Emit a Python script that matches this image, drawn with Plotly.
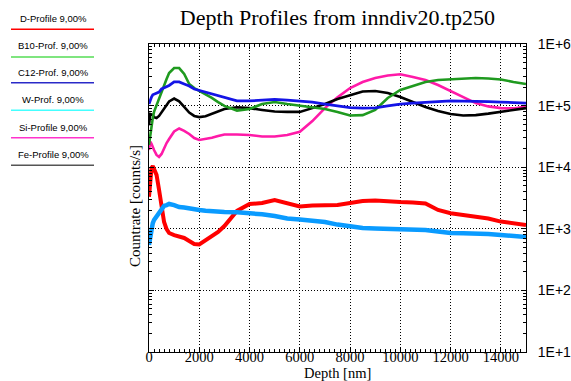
import plotly.graph_objects as go

# ---------------- data ----------------
depth_nm = [0, 50, 100, 150, 200, 300, 400, 500, 600, 700, 800, 1000, 1200, 1400, 1600,
            1800, 2000, 2250, 2500, 2750, 3000, 3500, 4000, 4500, 5000, 5500, 6000, 6500,
            7000, 7500, 8000, 8500, 9000, 9500, 10000, 10500, 11000, 11500, 12000, 12500,
            13000, 13500, 14000, 14500, 15000]

d_profile = [3.3e3, 6.2e3, 9.7e3, 1.04e4, 9.4e3, 7.5e3, 4.3e3, 2.26e3, 1.29e3, 990, 855, 790, 750,
             710, 634, 567, 556, 658, 764, 887, 1.11e3, 1.95e3, 2.53e3, 2.62e3, 2.94e3, 2.65e3,
             2.30e3, 2.39e3, 2.43e3, 2.43e3, 2.62e3, 2.83e3, 2.88e3, 2.75e3, 2.72e3, 2.68e3,
             2.58e3, 2.02e3, 1.79e3, 1.68e3, 1.56e3, 1.47e3, 1.31e3, 1.24e3, 1.15e3]

b10_profile = [2.3e4, 3.3e4, 5.0e4, 6.3e4, 7.9e4, 1.02e5, 1.23e5, 1.66e5, 2.16e5, 2.70e5, 3.38e5,
               4.07e5, 4.07e5, 3.26e5, 2.24e5, 1.93e5, 1.73e5, 1.54e5, 1.33e5, 1.14e5, 9.9e4,
               8.3e4, 8.8e4, 1.06e5, 1.14e5, 1.06e5, 1.0e5, 9.5e4, 8.8e4, 7.9e4, 6.9e4, 7.0e4,
               8.5e4, 1.33e5, 1.79e5, 2.08e5, 2.42e5, 2.61e5, 2.70e5, 2.75e5, 2.81e5, 2.75e5,
               2.65e5, 2.42e5, 2.24e5]

c12_profile = [1.06e5, 1.23e5, 1.38e5, 1.50e5, 1.54e5, 1.60e5, 1.66e5, 1.86e5, 1.93e5, 2.0e5,
               2.12e5, 2.42e5, 2.42e5, 2.24e5, 2.08e5, 1.86e5, 1.76e5, 1.66e5, 1.57e5, 1.43e5,
               1.33e5, 1.19e5, 1.19e5, 1.23e5, 1.26e5, 1.23e5, 1.19e5, 1.14e5, 1.06e5, 9.9e4,
               9.3e4, 9.1e4, 9.2e4, 9.9e4, 1.06e5, 1.10e5, 1.14e5, 1.16e5, 1.19e5, 1.19e5,
               1.16e5, 1.16e5, 1.14e5, 1.12e5, 1.10e5]

w_profile = [546, 764, 1.03e3, 1.24e3, 1.39e3, 1.61e3, 1.80e3, 2.09e3, 2.35e3, 2.43e3, 2.53e3,
             2.43e3, 2.26e3, 2.22e3, 2.18e3, 2.09e3, 2.02e3, 1.96e3, 1.91e3, 1.89e3, 1.87e3,
             1.85e3, 1.80e3, 1.72e3, 1.61e3, 1.47e3, 1.42e3, 1.36e3, 1.29e3, 1.17e3, 1.08e3,
             1.03e3, 1.01e3, 1.0e3, 982, 982, 957, 904, 855, 846, 846, 824, 793, 764, 736]

si_profile = [1.9e4, 2.6e4, 2.4e4, 2.05e4, 1.9e4, 1.58e4, 1.47e4, 1.64e4, 2.05e4, 2.47e4, 2.87e4,
              3.8e4, 4.25e4, 3.9e4, 3.46e4, 2.98e4, 2.77e4, 2.87e4, 3.01e4, 3.2e4, 3.4e4, 3.4e4,
              3.33e4, 3.15e4, 3.15e4, 3.33e4, 3.77e4, 5.6e4, 9.1e4, 1.36e5, 1.93e5, 2.42e5,
              2.81e5, 3.08e5, 3.22e5, 2.91e5, 2.61e5, 2.16e5, 1.73e5, 1.35e5, 1.10e5, 9.7e4,
              9.1e4, 9.0e4, 9.7e4]

fe_profile = [4.8e4, 7.3e4, 7.2e4, 7.0e4, 6.5e4, 6.3e4, 6.8e4, 7.7e4, 8.8e4, 1.02e5, 1.17e5,
              1.30e5, 1.17e5, 9.5e4, 7.7e4, 6.8e4, 6.5e4, 6.7e4, 7.3e4, 8.0e4, 8.8e4, 9.4e4,
              9.1e4, 8.5e4, 8.0e4, 7.9e4, 7.9e4, 9.1e4, 1.06e5, 1.28e5, 1.49e5, 1.69e5, 1.73e5,
              1.60e5, 1.38e5, 1.14e5, 9.5e4, 8.2e4, 7.3e4, 6.9e4, 7.0e4, 7.4e4, 8.0e4, 8.5e4,
              9.1e4]

legend_labels = ["D-Profile 9,00%", "B10-Prof. 9,00%", "C12-Prof. 9,00%",
                 "W-Prof. 9,00%", "Si-Profile 9,00%", "Fe-Profile 9,00%"]
x_tick_vals = [0, 2000, 4000, 6000, 8000, 10000, 12000, 14000]
x_tick_text = ["0", "2000", "4000", "6000", "8000", "10000", "12000", "14000"]
y_tick_vals = [1e1, 1e2, 1e3, 1e4, 1e5, 1e6]
y_tick_text = ["1E+1", "1E+2", "1E+3", "1E+4", "1E+5", "1E+6"]

# ---------------- styling ----------------
series = [
    (d_profile, "#ff0000", 4.0),
    (w_profile, "#0a9bff", 4.5),
    (si_profile, "#ff1aa8", 2.6),
    (fe_profile, "#000000", 2.6),
    (b10_profile, "#1f9a1f", 2.6),
    (c12_profile, "#1414e6", 2.8),
]
legend_colors = ["#ff0000", "#55dd55", "#2a2ac8", "#44ffff", "#ff33cc", "#555555"]

fig = go.Figure()
for vals, col, w in series:
    fig.add_trace(go.Scatter(x=depth_nm, y=vals, mode="lines",
                             line=dict(color=col, width=w), showlegend=False,
                             hoverinfo="skip"))

minor_y = [k * 10 ** e for e in range(1, 6) for k in range(2, 10)]

fig.update_layout(
    width=571, height=381,
    margin=dict(l=149, r=45, t=44, b=29, autoexpand=False),
    paper_bgcolor="white", plot_bgcolor="white",
    title=dict(text="Depth Profiles from inndiv20.tp250", x=0.591, xanchor="center",
               y=1 - 17 / 381, yanchor="middle", yref="container",
               font=dict(family="Liberation Serif", size=22, color="black")),
    xaxis=dict(range=[0, 15000], tickvals=x_tick_vals, ticktext=x_tick_text, showgrid=True,
               gridcolor="black", griddash="1px,2px", gridwidth=1, automargin=False,
               showline=True, linecolor="black", linewidth=1, mirror="allticks",
               ticks="inside", ticklen=5, tickcolor="black", ticklabelstandoff=-8,
               minor=dict(dtick=200, ticks="inside", ticklen=3, tickcolor="black", showgrid=False),
               tickfont=dict(family="Liberation Serif", size=14.5, color="black"),
               zeroline=False),
    yaxis=dict(type="log", range=[1, 6], side="right", tickvals=y_tick_vals,
               ticktext=y_tick_text, showgrid=True, gridcolor="black", griddash="1px,2px",
               gridwidth=1, showline=True, linecolor="black", linewidth=1, mirror="allticks",
               ticks="inside", ticklen=5, tickcolor="black", ticklabelstandoff=8,
               automargin=False,
               minor=dict(tickvals=minor_y, ticks="inside", ticklen=3, tickcolor="black",
                          showgrid=False),
               tickfont=dict(family="Liberation Sans", size=14, color="black"),
               zeroline=False),
)

# axis titles
fig.add_annotation(text="Depth [nm]", xref="paper", yref="paper", x=0.5, y=-21 / 308,
                   xanchor="center", yanchor="middle", showarrow=False,
                   font=dict(family="Liberation Serif", size=14.5, color="black"))
fig.add_annotation(text="Countrate [counts/s]", xref="paper", yref="paper", x=-14 / 377,
                   y=0.5 - 8 / 308, xanchor="center", yanchor="middle", textangle=-90,
                   showarrow=False,
                   font=dict(family="Liberation Serif", size=15, color="black"))

# custom legend (text above coloured line) on the left
text_y = [18.3, 46, 72.7, 99.3, 127.3, 154.7]
line_y = [29.3, 57, 82.7, 110.3, 137.7, 165.3]
for lab, col, ty, ly in zip(legend_labels, legend_colors, text_y, line_y):
    fig.add_annotation(text=lab, xref="paper", yref="paper",
                       x=(53 - 149) / 377, y=(352 - ty) / 308, xanchor="center",
                       yanchor="middle", showarrow=False,
                       font=dict(family="Liberation Sans", size=9.5, color="black"))
    fig.add_shape(type="line", xref="paper", yref="paper",
                  x0=(11 - 149) / 377, x1=(94 - 149) / 377,
                  y0=(352 - ly) / 308, y1=(352 - ly) / 308,
                  line=dict(color=col, width=1.5))

fig.write_html("out.html")
